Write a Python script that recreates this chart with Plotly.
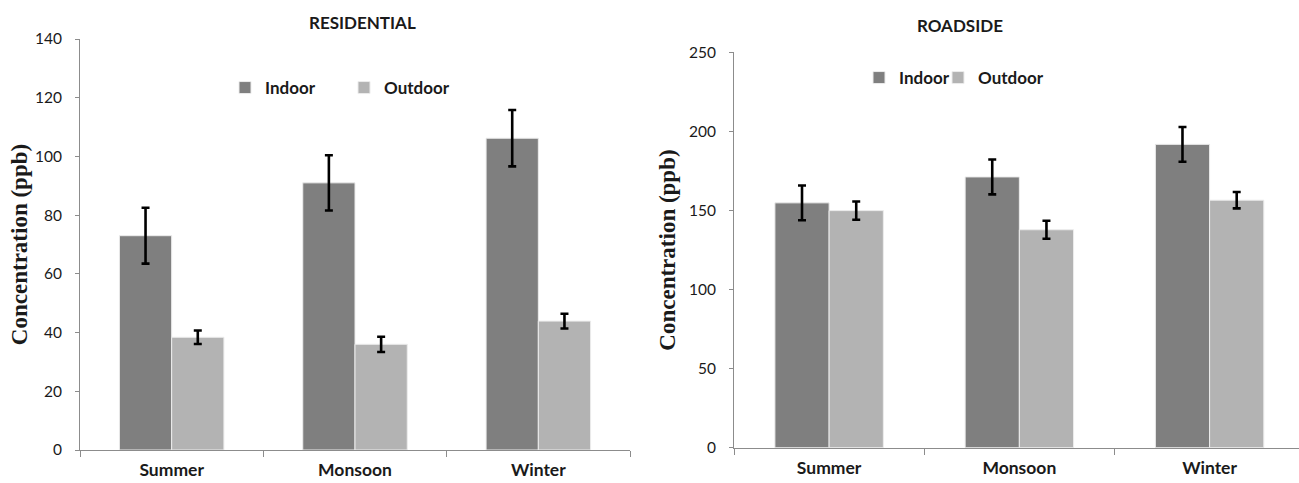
import plotly.graph_objects as go

seasons = ["Summer", "Monsoon", "Winter"]

res_indoor = [73.0, 91.0, 106.2]
res_indoor_err = [9.5, 9.4, 9.6]
res_outdoor = [38.4, 36.0, 43.9]
res_outdoor_err = [2.3, 2.6, 2.5]

road_indoor = [154.8, 171.2, 191.8]
road_indoor_err = [11.0, 11.0, 11.0]
road_outdoor = [149.9, 137.8, 156.5]
road_outdoor_err = [5.8, 5.7, 5.2]

C_IN = "#7f7f7f"
C_OUT = "#b3b3b3"
FONT = "Lato"
TXT = "#1a1a1a"

WF = 1299
HF = 483


def px(x):
    return x / WF


def py(y):
    return (HF - y) / HF


def err(vals):
    return dict(type="data", array=vals, color="black", thickness=2.6, width=4)


bar_line = dict(color="#ececec", width=1)
fig = go.Figure()
fig.add_trace(go.Bar(x=seasons, y=res_indoor, name="Indoor", marker=dict(color=C_IN, line=bar_line),
                     error_y=err(res_indoor_err), xaxis="x", yaxis="y",
                     legend="legend2", legendgroup="res_in"))
fig.add_trace(go.Bar(x=seasons, y=res_outdoor, name="Outdoor", marker=dict(color=C_OUT, line=bar_line),
                     error_y=err(res_outdoor_err), xaxis="x", yaxis="y",
                     legend="legend3", legendgroup="res_out"))
fig.add_trace(go.Bar(x=seasons, y=road_indoor, name="Indoor", marker=dict(color=C_IN, line=bar_line),
                     error_y=err(road_indoor_err), xaxis="x2", yaxis="y2",
                     legend="legend4", legendgroup="road_in"))
fig.add_trace(go.Bar(x=seasons, y=road_outdoor, name="Outdoor", marker=dict(color=C_OUT, line=bar_line),
                     error_y=err(road_outdoor_err), xaxis="x2", yaxis="y2",
                     legend="legend5", legendgroup="road_out"))

xcommon = dict(showline=True, linecolor="#8c8c8c", linewidth=1, ticks="outside", tickson="boundaries",
               ticklen=6, tickcolor="#8c8c8c", showgrid=False, zeroline=False, automargin=False,
               ticklabelstandoff=4,
               tickfont=dict(family=FONT, size=17.5, color=TXT, weight="bold"))


def ycommon(standoff):
    return dict(showline=True, linecolor="#8c8c8c", linewidth=1, ticks="outside", ticklen=4,
                tickcolor="#8c8c8c", showgrid=False, zeroline=False, ticklabelstandoff=10, automargin=False,
                tickfont=dict(family=FONT, size=15.5, color=TXT),
                title=dict(text="Concentration (ppb)", standoff=standoff,
                           font=dict(family="Liberation Serif", size=23, color=TXT, weight="bold")))


def leg(text_x, y):
    return dict(orientation="h", x=px(text_x - 41), y=py(y), xanchor="left", yanchor="middle",
                itemwidth=30, font=dict(family=FONT, size=17, color=TXT, weight="bold"),
                bgcolor="rgba(0,0,0,0)", visible=True)


fig.update_layout(
    width=WF, height=HF,
    margin=dict(l=0, r=0, t=0, b=0),
    paper_bgcolor="white", plot_bgcolor="white",
    showlegend=True,
    barmode="group", bargap=0.43, bargroupgap=0.0,
    xaxis=dict(domain=[px(80), px(630)], anchor="y", range=[-0.5, 2.5], **xcommon),
    yaxis=dict(domain=[py(450), py(39)], anchor="x", range=[0, 140],
               tickvals=[0, 20, 40, 60, 80, 100, 120, 140], **ycommon(0)),
    xaxis2=dict(domain=[px(734), 1.0], anchor="y2", range=[-0.5, 2.47], **xcommon),
    yaxis2=dict(domain=[py(447.7), py(52.3)], anchor="x2", range=[0, 250],
                tickvals=[0, 50, 100, 150, 200, 250], **ycommon(6)),
    legend2=leg(266, 88),
    legend3=leg(385, 88),
    legend4=leg(900, 78),
    legend5=leg(979, 78),
    annotations=[
        dict(text="RESIDENTIAL", x=px(362), y=py(22), xref="paper", yref="paper", showarrow=False,
             xanchor="center", yanchor="middle", font=dict(family=FONT, size=17, color=TXT, weight="bold")),
        dict(text="ROADSIDE", x=px(960), y=py(26), xref="paper", yref="paper", showarrow=False,
             xanchor="center", yanchor="middle", font=dict(family=FONT, size=17, color=TXT, weight="bold")),
    ],
)

fig.write_html("out.html", config={"displayModeBar": False},
               post_script="document.body.style.margin='0';document.body.style.overflow='hidden';")
